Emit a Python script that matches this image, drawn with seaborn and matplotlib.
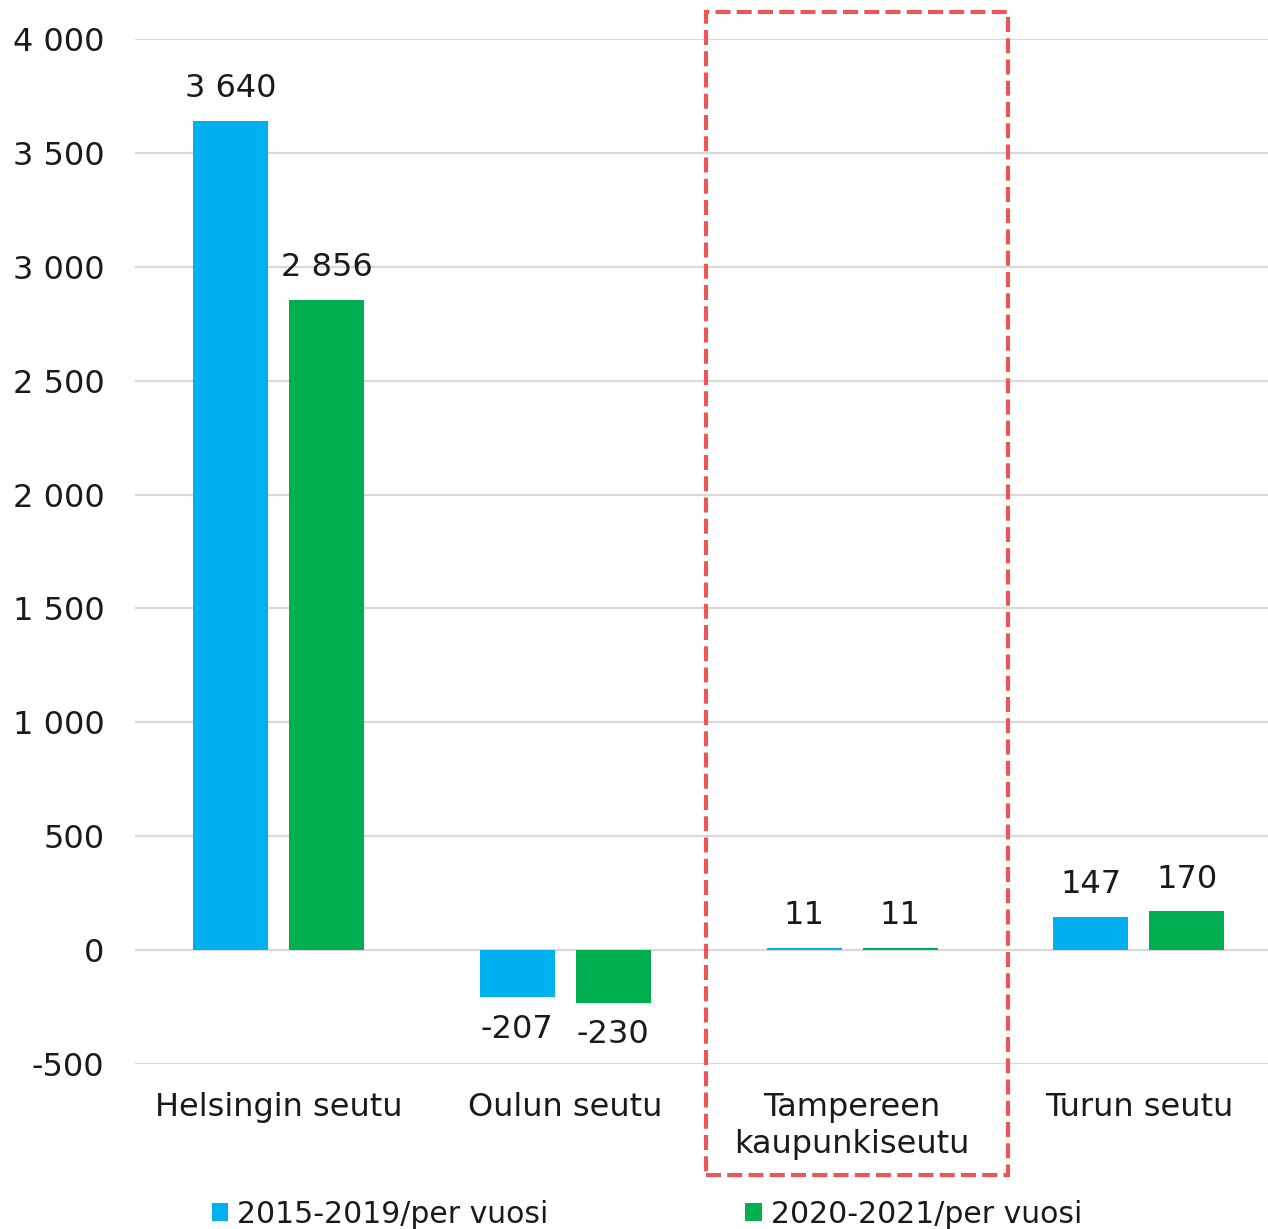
import matplotlib
matplotlib.use('Agg')
import matplotlib.pyplot as plt
from matplotlib.patches import Rectangle, Patch
import seaborn as sns
import pandas as pd

# 数据
regions = ['Helsingin seutu', 'Oulun seutu', 'Tampereen\nkaupunkiseutu', 'Turun seutu']
series_names = ['2015-2019/per vuosi', '2020-2021/per vuosi']
values_2015_2019 = [3640, -207, 11, 147]
values_2020_2021 = [2856, -230, 11, 170]
y_ticks = [-500, 0, 500, 1000, 1500, 2000, 2500, 3000, 3500, 4000]
colors = ['#00B0F0', '#00B050']

df = pd.DataFrame({
    'region': regions * 2,
    'period': [series_names[0]] * 4 + [series_names[1]] * 4,
    'value': values_2015_2019 + values_2020_2021,
})


def fmt(v):
    # 千位分隔符用空格
    return f'{v:,}'.replace(',', ' ')


sns.set_theme(style='white')
plt.rcParams['font.family'] = ['DejaVu Sans']
FS = 23

fig = plt.figure(figsize=(12.68, 12.29), dpi=100)
ax = fig.add_axes([0.1065, 0.1342, 0.8935, 0.8341])

sns.barplot(data=df, x='region', y='value', hue='period', palette=colors,
            width=0.67, gap=0.22, ax=ax, legend=False, saturation=1,
            linewidth=0)

# 数值标签
for container, vals in zip(ax.containers, [values_2015_2019, values_2020_2021]):
    ax.bar_label(container, labels=[fmt(v) for v in vals], padding=12,
                 fontsize=FS, color='#1a1a1a')

ax.set_ylim(-500, 4000)
ax.set_xlim(-0.5, 3.45)
ax.set_yticks(y_ticks)
ax.set_yticklabels([fmt(v) for v in y_ticks], fontsize=FS, color='#1a1a1a')
ax.tick_params(axis='y', length=0, pad=22)
ax.tick_params(axis='x', length=0, pad=20, labelsize=FS, labelcolor='#1a1a1a')
for lbl in ax.get_xticklabels():
    lbl.set_linespacing(1.25)
ax.set_xlabel('')
ax.set_ylabel('')
ax.yaxis.grid(True, color='#D9D9D9', linewidth=1.6)
ax.set_axisbelow(True)
for s in ax.spines.values():
    s.set_visible(False)

# 红色虚线框
box = Rectangle((0.5568, 0.0439), 0.795 - 0.5568, 0.9902 - 0.0439,
                transform=fig.transFigure, fill=False, edgecolor='#EB5757',
                linewidth=3, linestyle=(0, (3.6, 1.5)), zorder=10)
fig.patches.append(box)

# 图例
handles = [Patch(facecolor=c, edgecolor='none') for c in colors]
fig.legend(handles, series_names, loc='center', bbox_to_anchor=(0.51, 0.012),
           ncol=2, frameon=False, fontsize=21.5, handlelength=0.55, handleheight=0.55,
           handletextpad=0.3, columnspacing=6.6, labelcolor='#1a1a1a')

plt.savefig('out.png', dpi=100)
plt.close()
